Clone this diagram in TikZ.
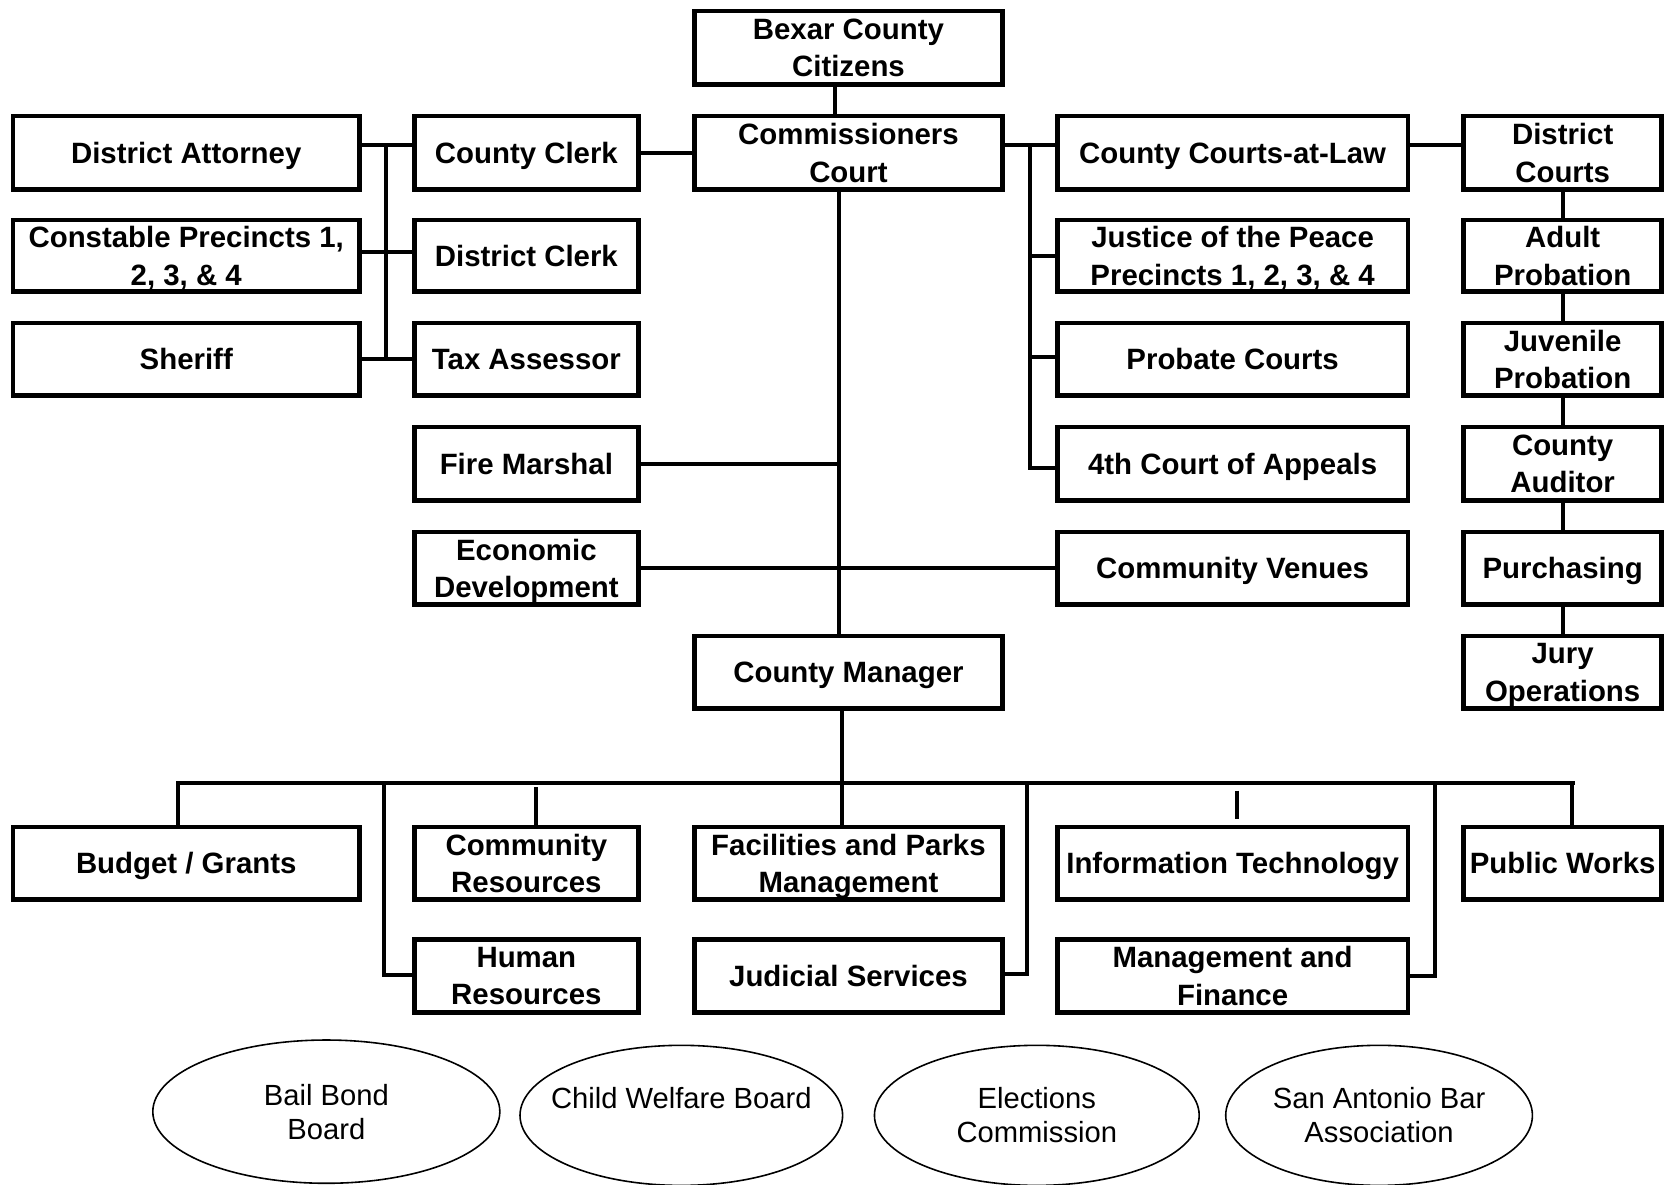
\documentclass[tikz,border=0pt]{standalone}
\usepackage{fontspec}
\setmainfont{Liberation Sans}
\usetikzlibrary{shapes.geometric}
\tikzset{
  box/.style={draw,line width=2.3pt,align=center,inner sep=0pt,text depth=0pt,
    font=\fontsize{13.85}{17.8}\selectfont\bfseries},
  oval/.style={draw,ellipse,line width=0.75pt,inner sep=0pt},
  ovtext/.style={align=center,inner sep=0pt,font=\fontsize{13.75}{16}\selectfont},
  ln/.style={line width=1.9pt},
}
\newcommand\bx[6]{\node[box,minimum width={(#4-#2-4.6)*0.5pt},minimum height={(#5-#3-4.6)*0.5pt}] (#1) at ({(#2+#4)/2},{(#3+#5)/2}) {#6};}
\newcommand\ov[6]{\node[oval,minimum width={(#4-#2)*0.5pt},minimum height={(#5-#3)*0.5pt}] (#1) at ({(#2+#4)/2},{(#3+#5)/2}) {};
  \node[ovtext] (#1t) at (#1) {#6};}
\begin{document}
\begin{tikzpicture}[x=0.5pt,y=-0.5pt]
\useasboundingbox (0,0) rectangle (1568,1116);
% boxes
\bx{cit}{652}{8}{947}{82}{Bexar County\\Citizens}
\bx{com}{652}{107}{947}{181}{Commissioners\\Court}
\bx{clerk}{388}{107}{604}{181}{County Clerk}
\bx{da}{10}{107}{341}{181}{District Attorney}
\bx{const}{10}{205}{341}{277}{Constable Precincts 1,\\2, 3, \& 4}
\bx{dclerk}{388}{205}{604}{277}{District Clerk}
\bx{sher}{10}{302}{341}{375}{Sheriff}
\bx{tax}{388}{302}{604}{375}{Tax Assessor}
\bx{fire}{388}{400}{604}{474}{Fire Marshal}
\bx{econ}{388}{499}{604}{572}{Economic\\Development}
\bx{ccal}{994}{107}{1329}{181}{County Courts-at-Law}
\bx{jp}{994}{205}{1329}{277}{Justice of the Peace\\Precincts 1, 2, 3, \& 4}
\bx{prob}{994}{302}{1329}{375}{Probate Courts}
\bx{app}{994}{400}{1329}{474}{4th Court of Appeals}
\bx{venue}{994}{499}{1329}{572}{Community Venues}
\bx{dcourt}{1377}{107}{1568}{181}{District\\Courts}
\bx{adult}{1377}{205}{1568}{277}{Adult\\Probation}
\bx{juv}{1377}{302}{1568}{375}{Juvenile\\Probation}
\bx{aud}{1377}{400}{1568}{474}{County\\Auditor}
\bx{purch}{1377}{499}{1568}{572}{Purchasing}
\bx{jury}{1377}{597}{1568}{670}{Jury\\Operations}
\bx{mgr}{652}{597}{947}{670}{County Manager}
\bx{budget}{10}{777}{341}{850}{Budget / Grants}
\bx{cres}{388}{777}{604}{850}{Community\\Resources}
\bx{fac}{652}{777}{947}{850}{Facilities and Parks\\Management}
\bx{it}{994}{777}{1329}{850}{Information Technology}
\bx{pw}{1377}{777}{1568}{850}{Public Works}
\bx{hr}{388}{883}{604}{956}{Human\\Resources}
\bx{jud}{652}{883}{947}{956}{Judicial Services}
\bx{mf}{994}{883}{1329}{956}{Management and\\Finance}
% ovals
\ov{bail}{144}{980}{471}{1115}{Bail Bond\\Board}
\ov{cwb}{490}{985}{794}{1117}{Child Welfare Board\\\phantom{X}}
\ov{elec}{824}{985}{1130}{1117}{Elections\\Commission}
\ov{sabar}{1155}{985}{1444}{1117}{San Antonio Bar\\Association}
% coordinates
\coordinate (lt) at (364,137);
\coordinate (lb) at (364,338);
\coordinate (rt) at (971,137);
\coordinate (rb) at (971,441);
\coordinate (sp) at (791,437);
\coordinate (busl) at (166,738);
\coordinate (busr) at (1484,738);
\coordinate (hrc) at (362,919);
\coordinate (judc) at (968,918);
\coordinate (mfc) at (1352,920);
\coordinate (its) at (1166,745);
% connectors
\draw[ln] ([xshift=-6.25pt]cit.south) -- ([xshift=-6.25pt]com.north);
\draw[ln] (clerk.east) -- (com.west);
\draw[ln] (da.east |- lt) -- (clerk.west |- lt);
\draw[ln] (lt) -- (lb);
\draw[ln] (const.east |- 0,237) -- (dclerk.west |- 0,237);
\draw[ln] (sher.east |- lb) -- (tax.west |- lb);
\draw[ln] ([xshift=-4.25pt]com.south) -- ([xshift=-4.25pt]mgr.north);
\draw[ln] (fire.east) -- (sp);
\draw[ln] (econ.east) -- (venue.west);
\draw[ln] (com.east |- rt) -- (ccal.west |- rt);
\draw[ln] (rt) -- (rb) -- (app.west |- rb);
\draw[ln] (jp.west) -- (jp.west -| rt);
\draw[ln] (prob.west |- 0,336) -- (rt |- 0,336);
\draw[ln] (ccal.east |- rt) -- (dcourt.west |- rt);
\draw[ln] (dcourt.south) -- (adult.north);
\draw[ln] (adult.south) -- (juv.north);
\draw[ln] (juv.south) -- (aud.north);
\draw[ln] (aud.south) -- (purch.north);
\draw[ln] (purch.south) -- (jury.north);
\draw[ln] ([xshift=-3.25pt]mgr.south) -- ([xshift=-3.25pt]mgr.south |- busl);
\draw[ln] (busl) -- (busr);
\draw[ln] (busl -| 168,0) -- (budget.north -| 168,0);
\draw[ln] (busl -| hrc) -- (hrc) -- (hr.west |- hrc);
\draw[ln] (505,742) -- (cres.north -| 505,0);
\draw[ln] (busl -| 793,0) -- (fac.north -| 793,0);
\draw[ln] (busl -| judc) -- (judc) -- (jud.east |- judc);
\draw[ln] (its) -- ++(0,27);
\draw[ln] (busl -| mfc) -- (mfc) -- (mf.east |- mfc);
\draw[ln] (busl -| 1481,0) -- (pw.north -| 1481,0);
\end{tikzpicture}
\end{document}
